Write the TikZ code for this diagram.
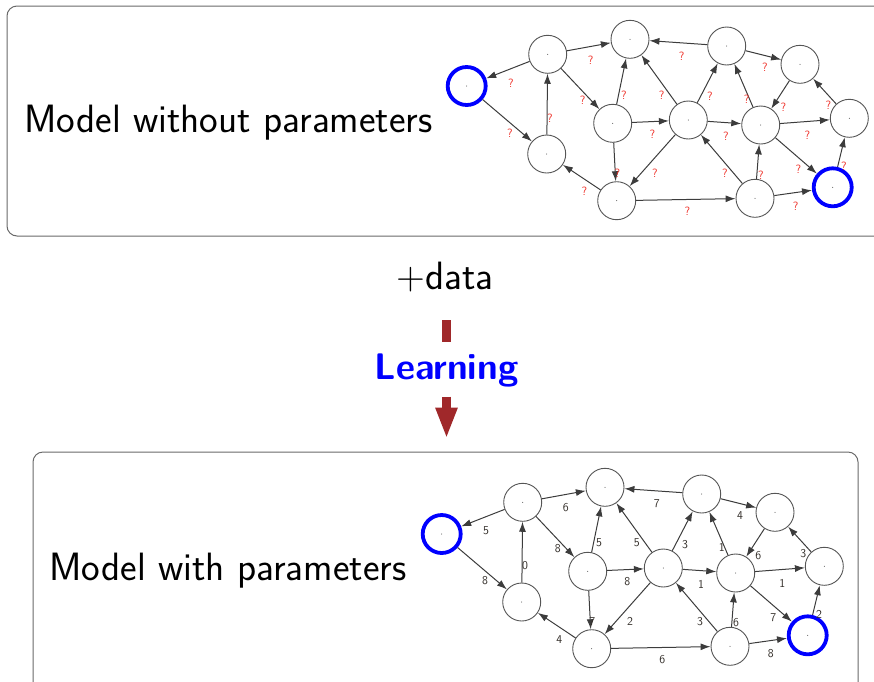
\documentclass[tikz,border=0pt]{standalone}
\usepackage{fontspec}
\usepackage{tikz}
\usetikzlibrary{arrows.meta,calc,positioning}
\renewcommand{\familydefault}{\sfdefault}

\definecolor{netgray}{RGB}{60,60,60}
\definecolor{ringgray}{RGB}{85,85,85}
\definecolor{qred}{RGB}{238,48,40}
\definecolor{wgray}{RGB}{50,45,40}
\definecolor{arrowred}{RGB}{160,40,42}
\definecolor{boxgray}{RGB}{105,105,105}

% node/x/y/style
\newcommand{\netnodes}{s/466.7/86/goalnode, a/547.7/54.3/netnode, b/630/39.3/netnode,
  c/726.7/46/netnode, d/800/64.3/netnode, e/849.3/118.3/netnode, f/546.7/154/netnode,
  g/612.7/123.3/netnode, h/688.3/120/netnode, i/760.7/125/netnode, j/832.7/187.3/goalnode,
  k/616.7/200.7/netnode, l/755/198.3/netnode}
% from/to/label x/label y/weight
\newcommand{\netedges}{a/s/511/83/5, s/f/510/133/8, f/a/550/118/0, a/b/590.7/60/6,
  a/g/582.7/100.7/8, g/b/624/95/5, g/h/652.3/134/8, g/k/617.3/173.3/7, c/b/681.7/56/7,
  h/b/661.7/95/5, h/c/710/96.7/3, h/i/726/136.7/1, h/k/655/173.3/2, k/f/584.3/191.7/4,
  k/l/687.3/211.7/6, l/h/725/173.3/3, l/i/761/175/6, l/j/795.7/206/8, i/c/746.7/99.3/1,
  c/d/765/67.7/4, d/i/783.3/107.3/6, i/e/807.3/135/1, e/d/828.3/105.7/3, i/j/798.3/169.3/7,
  j/e/844/166/2}

\tikzset{
  panel/.style={rounded corners=10pt, draw=boxgray, line width=1pt},
  netnode/.style={circle, draw=ringgray, line width=0.9pt, minimum size=38pt, inner sep=0pt, fill=white},
  goalnode/.style={netnode, draw=blue, line width=3.8pt},
  edge/.style={draw=netgray, line width=1pt, -{Latex[length=10pt,width=7pt]}},
  qlabel/.style={font=\fontsize{12}{13}\selectfont, text=qred},
  wlabel/.style={font=\fontsize{12}{13}\selectfont, text=wgray},
  bigtext/.style={font=\fontsize{39.5}{46}\selectfont, anchor=base},
  bigarrow/.style={draw=arrowred, line width=9pt}
}

\begin{document}
\begin{tikzpicture}[x=1pt, y=-1pt]
    \useasboundingbox (0,0) rectangle (874,681);

    % model without parameters
    \draw[panel] (7,6) rectangle (886,236);
    \node[bigtext] (nopar) at (228.5,132) {Model without parameters};
    \begin{scope}[name prefix=top-]
        \foreach \n/\x/\y/\st in \netnodes{
            \node[\st] (\n) at (\x,\y) {};
            \fill[netgray] (\n) circle (0.5pt);
        }
        \foreach \u/\v/\lx/\ly/\w in \netedges{
            \draw[edge] (\u) -- (\v);
            \node[qlabel] at (\lx,\ly) {?};
        }
    \end{scope}

    % learning step
    \node[bigtext] (data) at (445,289.5) {+data};
    \node[font=\fontsize{37}{44}\selectfont\bfseries, text=blue, anchor=base,
          text height=27pt, text depth=7pt, inner ysep=10pt] (learn) at (446.5,379.5) {Learning};
    \draw[bigarrow] (learn.north |- 0,320) -- (learn.north);
    \draw[bigarrow, -{Triangle[length=31pt,width=20pt]}] (learn.south) -- ++(0,42);

    % model with parameters
    \draw[panel] (33,452) rectangle (858,692);
    \node[bigtext] (withpar) at (228,580.7) {Model with parameters};
    \begin{scope}[xshift=-25pt, yshift=-448pt, name prefix=bot-]
        \foreach \n/\x/\y/\st in \netnodes{
            \node[\st] (\n) at (\x,\y) {};
            \fill[netgray] (\n) circle (0.5pt);
        }
        \foreach \u/\v/\lx/\ly/\w in \netedges{
            \draw[edge] (\u) -- (\v);
            \node[wlabel] at (\lx,\ly) {\w};
        }
    \end{scope}
\end{tikzpicture}
\end{document}
